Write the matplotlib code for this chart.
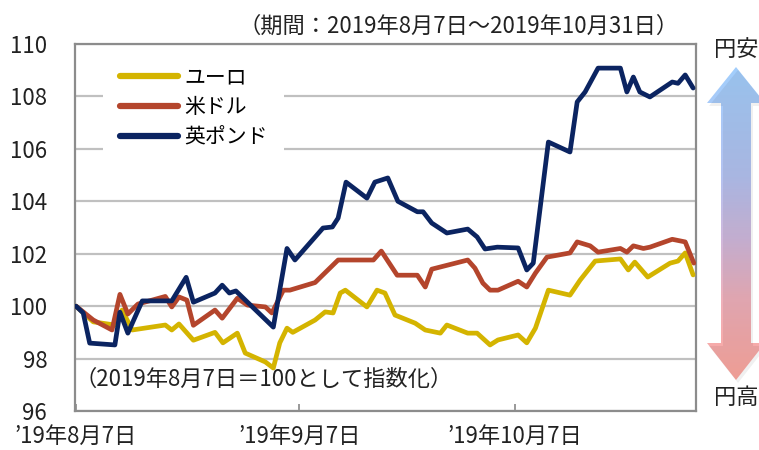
import matplotlib
matplotlib.use("Agg")
import matplotlib.pyplot as plt
import numpy as np
from matplotlib.patches import Polygon
from matplotlib.colors import LinearSegmentedColormap

plt.rcParams['font.family'] = ['Noto Sans CJK JP', 'DejaVu Sans']

# ---- data (days since 2019-08-07, index 2019-08-07 = 100) ----
eur_days = [0.0, 2.4, 5.4, 6.4, 7.8, 12.4, 13.3, 14.3, 16.3, 19.3, 20.4, 22.4, 23.5, 26.3, 27.4,
            28.3, 29.3, 30.1, 33.2, 34.6, 35.7, 36.7, 37.4, 40.4, 41.8, 42.9, 44.3, 47.1, 48.5,
            50.6, 51.5, 54.4, 55.7, 57.5, 58.6, 61.4, 62.6, 63.8, 65.6, 68.6, 70.0, 72.1, 75.6,
            76.7, 77.6, 79.4, 82.5, 83.6, 84.6, 85.7]
eur_vals = [100.0, 99.40, 99.28, 99.85, 99.09, 99.28, 99.09, 99.32, 98.70, 99.00, 98.60, 98.97,
            98.21, 97.87, 97.64, 98.60, 99.16, 99.00, 99.47, 99.78, 99.74, 100.50, 100.61, 99.97,
            100.61, 100.50, 99.66, 99.35, 99.09, 98.97, 99.28, 98.97, 98.97, 98.52, 98.71, 98.90,
            98.60, 99.16, 100.61, 100.42, 100.99, 101.72, 101.80, 101.38, 101.68, 101.11, 101.64,
            101.72, 102.03, 101.19]

usd_days = [0.0, 1.0, 2.4, 5.0, 6.1, 7.2, 8.6, 12.4, 13.3, 14.3, 15.4, 16.3, 19.3, 20.3, 22.4,
            23.8, 26.3, 27.2, 28.8, 29.7, 33.2, 36.4, 41.3, 42.4, 44.6, 47.4, 48.5, 49.4, 54.4,
            55.4, 56.5, 57.5, 58.6, 61.4, 62.6, 63.8, 65.4, 68.6, 69.6, 71.4, 72.5, 75.6, 76.5,
            77.4, 78.8, 79.7, 82.8, 84.6, 85.8]
usd_vals = [100.0, 99.78, 99.47, 99.09, 100.45, 99.70, 100.08, 100.37, 99.97, 100.35, 100.23,
            99.27, 99.85, 99.54, 100.30, 100.04, 99.97, 99.74, 100.61, 100.61, 100.90, 101.76,
            101.76, 102.10, 101.18, 101.18, 100.73, 101.41, 101.76, 101.45, 100.88, 100.61,
            100.61, 100.95, 100.73, 101.26, 101.87, 102.03, 102.45, 102.30, 102.06, 102.20,
            102.06, 102.30, 102.20, 102.25, 102.55, 102.45, 101.64]

gbp_days = [0.0, 1.0, 1.9, 5.4, 6.1, 7.2, 9.2, 13.3, 15.3, 16.3, 19.3, 20.3, 21.3, 22.2, 27.4,
            29.3, 30.4, 34.3, 35.6, 36.4, 37.5, 40.4, 41.5, 43.3, 44.7, 47.4, 48.2, 49.4, 51.5,
            54.4, 55.7, 56.8, 58.5, 61.4, 62.6, 63.5, 65.6, 68.6, 69.6, 70.7, 72.5, 75.6, 76.5,
            77.4, 78.3, 79.7, 82.8, 83.6, 84.6, 85.7]
gbp_vals = [100.0, 99.74, 98.59, 98.52, 99.77, 98.97, 100.20, 100.20, 101.10, 100.15, 100.50,
            100.80, 100.50, 100.58, 99.20, 102.20, 101.76, 102.98, 103.02, 103.36, 104.73, 104.12,
            104.73, 104.89, 104.00, 103.60, 103.60, 103.17, 102.79, 102.94, 102.64, 102.18,
            102.25, 102.22, 101.38, 101.64, 106.26, 105.88, 107.79, 108.17, 109.08, 109.08,
            108.17, 108.74, 108.17, 107.98, 108.55, 108.50, 108.82, 108.32]

series_names = ['ユーロ', '米ドル', '英ポンド']
series_colors = ['#D4B400', '#B4452C', '#0B2461']

xtick_days = [0, 31, 61]
xtick_labels = ['’19年8月7日', '’19年9月7日', '’19年10月7日']
yticks = [96, 98, 100, 102, 104, 106, 108, 110]

title_text = '（期間：2019年8月7日～2019年10月31日）'
note_text = '（2019年8月7日＝100として指数化）'

# ---- figure ----
W, H = 759, 450
fig = plt.figure(figsize=(W / 100, H / 100), dpi=100)
ax = fig.add_axes([75 / W, 1 - 411 / H, 621 / W, 367 / H])

for d, v, name, c in zip([eur_days, usd_days, gbp_days], [eur_vals, usd_vals, gbp_vals],
                         series_names, series_colors):
    ax.plot(d, v, color=c, lw=3.4, label=name, solid_joinstyle='round',
            solid_capstyle='round', zorder=3)

ax.set_xlim(-0.14, 86.1)
ax.set_ylim(96, 110)
ax.set_yticks(yticks)
ax.set_yticklabels([str(t) for t in yticks])
ax.set_xticks(xtick_days)
ax.set_xticklabels(xtick_labels)
ax.yaxis.grid(True, color='#C0C0C0', lw=1.6)
ax.set_axisbelow(True)
ax.tick_params(axis='y', length=0, pad=20, labelsize=16, colors='#222222')
ax.tick_params(axis='x', direction='in', length=5, width=1.2, color='#888888',
               pad=10, labelsize=16, labelcolor='#222222')
for s in ax.spines.values():
    s.set_color('#8C8C8C')
    s.set_linewidth(1.6)

leg = ax.legend(loc='upper left', bbox_to_anchor=(0.045, 0.985), borderaxespad=0,
                fontsize=15, handlelength=2.8, handletextpad=0.3, labelspacing=0.38,
                borderpad=0.8, frameon=True, fancybox=False)
leg.get_frame().set_edgecolor('none')
leg.get_frame().set_facecolor('white')
leg.get_frame().set_alpha(1)
for line in leg.get_lines():
    line.set_linewidth(4.5)
    line.set_solid_capstyle('round')

ax.text(0.304, 0.085, note_text, transform=ax.transAxes, ha='center', va='center',
        fontsize=16, color='#222222')
fig.text(459 / W, 1 - 26 / H, title_text, ha='center', va='center', fontsize=16,
         color='#222222')

# ---- gradient double arrow on the right ----
ax2 = fig.add_axes([0, 0, 1, 1], zorder=-1)
ax2.set_xlim(0, W)
ax2.set_ylim(H, 0)
ax2.axis('off')
cx, sh, hh = 736, 15, 29
t_tip, t_base, b_base, b_tip = 67, 103, 343, 380
verts = [(cx, t_tip), (cx + hh, t_base), (cx + sh, t_base), (cx + sh, b_base),
         (cx + hh, b_base), (cx, b_tip), (cx - hh, b_base), (cx - sh, b_base),
         (cx - sh, t_base), (cx - hh, t_base)]
shadow = Polygon([(x + 2, y + 3) for x, y in verts], closed=True, facecolor='#000000',
                 alpha=0.06, edgecolor='none')
ax2.add_patch(shadow)
poly = Polygon(verts, closed=True, facecolor='none', edgecolor='none')
ax2.add_patch(poly)
cmap = LinearSegmentedColormap.from_list(
    'yen', [(0.0, '#A2CEFC'), (0.35, '#B4C2F0'), (0.55, '#D0B8DC'), (0.75, '#EFB0BA'),
            (1.0, '#FDA79E')])
grad = np.linspace(0, 1, 256).reshape(-1, 1)
im = ax2.imshow(grad, cmap=cmap, aspect='auto', extent=[cx - hh - 2, cx + hh + 2, b_tip, t_tip],
                origin='upper')
im.set_clip_path(poly)
ax2.text(cx, 50, '円安', ha='center', va='center', fontsize=16, color='#222222')
ax2.text(cx, 397, '円高', ha='center', va='center', fontsize=16, color='#222222')

fig.savefig('out.png', dpi=100)
